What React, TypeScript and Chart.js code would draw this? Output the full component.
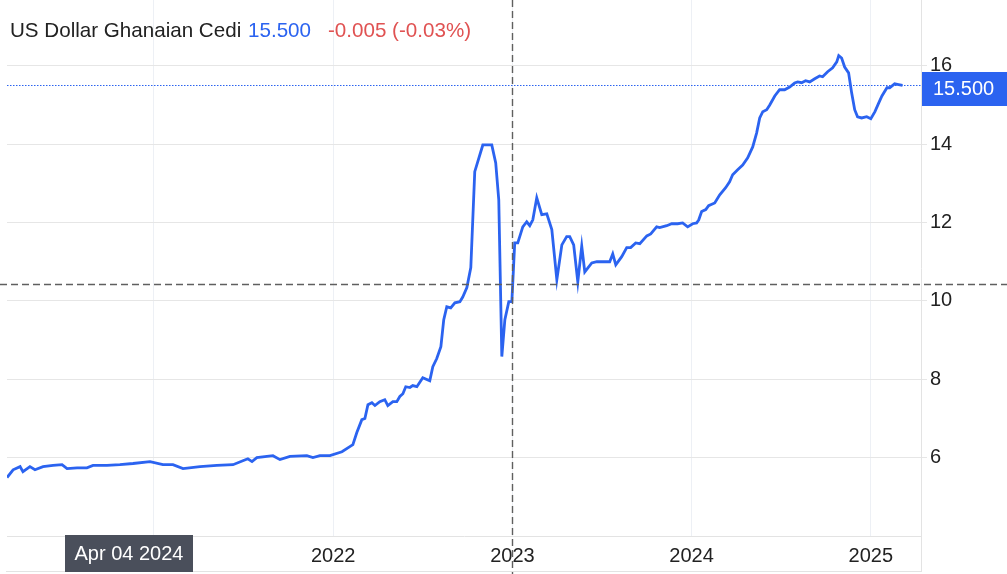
import React, { useEffect, useRef } from "react";
import { Chart, registerables } from "chart.js";

Chart.register(...registerables);

// ---- Data (decimal year, USD/GHS rate) ----
const dates: number[] = [
  2020.18, 2020.214, 2020.253, 2020.269, 2020.308, 2020.336, 2020.381, 2020.437, 2020.487, 2020.515,
  2020.571, 2020.626, 2020.66, 2020.738, 2020.81, 2020.883, 2020.978, 2021.05, 2021.106, 2021.162,
  2021.257, 2021.351, 2021.441, 2021.496, 2021.524, 2021.547, 2021.574, 2021.63, 2021.664, 2021.703,
  2021.759, 2021.853, 2021.887, 2021.926, 2021.982, 2022.049, 2022.093, 2022.11, 2022.132, 2022.16,
  2022.177, 2022.194, 2022.216, 2022.233, 2022.26, 2022.288, 2022.305, 2022.333, 2022.355, 2022.372,
  2022.389, 2022.405, 2022.428, 2022.444, 2022.467, 2022.5, 2022.539, 2022.556, 2022.578, 2022.601,
  2022.617, 2022.634, 2022.656, 2022.679, 2022.707, 2022.723, 2022.746, 2022.768, 2022.79, 2022.835,
  2022.857, 2022.885, 2022.907, 2022.924, 2022.941, 2022.958, 2022.98, 2022.997, 2023.013, 2023.03,
  2023.058, 2023.08, 2023.097, 2023.114, 2023.136, 2023.164, 2023.192, 2023.22, 2023.248, 2023.276,
  2023.303, 2023.32, 2023.342, 2023.365, 2023.387, 2023.404, 2023.443, 2023.471, 2023.526, 2023.543,
  2023.56, 2023.577, 2023.61, 2023.638, 2023.66, 2023.688, 2023.711, 2023.75, 2023.772, 2023.805,
  2023.822, 2023.861, 2023.889, 2023.922, 2023.95, 2023.978, 2024.006, 2024.028, 2024.04, 2024.056,
  2024.079, 2024.095, 2024.129, 2024.157, 2024.19, 2024.212, 2024.229, 2024.257, 2024.285, 2024.313,
  2024.341, 2024.363, 2024.38, 2024.397, 2024.419, 2024.436, 2024.464, 2024.491, 2024.519, 2024.547,
  2024.575, 2024.592, 2024.614, 2024.636, 2024.659, 2024.687, 2024.714, 2024.731, 2024.759, 2024.787,
  2024.81, 2024.821, 2024.837, 2024.854, 2024.876, 2024.893, 2024.91, 2024.926, 2024.949, 2024.977,
  2025.0, 2025.023, 2025.045, 2025.062, 2025.09, 2025.105, 2025.133, 2025.155, 2025.177,
];

const rates: number[] = [
  5.49, 5.69, 5.77, 5.64, 5.77, 5.69, 5.77, 5.8, 5.82, 5.72,
  5.74, 5.74, 5.8, 5.8, 5.82, 5.85, 5.9, 5.82, 5.82, 5.72,
  5.77, 5.8, 5.82, 5.92, 5.97, 5.9, 6.0, 6.03, 6.05, 5.95,
  6.03, 6.05, 6.0, 6.05, 6.05, 6.15, 6.28, 6.33, 6.64, 6.97,
  7.0, 7.35, 7.4, 7.33, 7.43, 7.48, 7.33, 7.43, 7.43, 7.56,
  7.63, 7.81, 7.79, 7.84, 7.81, 8.04, 7.96, 8.32, 8.53, 8.83,
  9.52, 9.85, 9.82, 9.95, 9.98, 10.1, 10.34, 10.85, 13.3, 13.98,
  13.98, 13.98, 13.52, 12.58, 8.58, 9.52, 9.98, 9.98, 11.48, 11.48,
  11.89, 12.02, 11.92, 12.07, 12.63, 12.2, 12.22, 11.82, 10.54, 11.43,
  11.64, 11.64, 11.43, 10.49, 11.4, 10.74, 10.97, 11.0, 11.0, 11.0,
  11.2, 10.92, 11.13, 11.36, 11.36, 11.48, 11.46, 11.66, 11.71, 11.89,
  11.87, 11.92, 11.97, 11.97, 11.99, 11.89, 11.97, 11.99, 12.07, 12.28,
  12.33, 12.43, 12.5, 12.71, 12.89, 13.04, 13.22, 13.35, 13.47, 13.65,
  13.93, 14.29, 14.67, 14.83, 14.88, 15.0, 15.23, 15.39, 15.39, 15.46,
  15.56, 15.59, 15.57, 15.62, 15.59, 15.67, 15.74, 15.72, 15.85, 15.95,
  16.1, 16.26, 16.2, 15.97, 15.82, 15.31, 14.88, 14.7, 14.67, 14.7,
  14.65, 14.83, 15.06, 15.23, 15.44, 15.44, 15.54, 15.52, 15.5,
];

const yearTicks: number[] = [2021, 2022, 2023, 2024, 2025];
const rateTicks: number[] = [6, 8, 10, 12, 14, 16];

const SERIES_NAME = "US Dollar Ghanaian Cedi";
const LAST_VALUE = 15.5;
const LAST_LABEL = "15.500";
const CHANGE_LABEL = "-0.005 (-0.03%)";
const HOVER_DATE_LABEL = "Apr 04 2024";
const CROSS_X = 2023.0;
const CROSS_Y = 10.43;

const X_MIN = 2020.18;
const X_MAX = 2025.28;
const Y_MIN = 4;
const Y_MAX = 17.68;

const W = 1007;
const H = 574;
const FONT = "'Liberation Sans', Arial, sans-serif";
const BLUE = "#2b63f0";
const RED = "#e05252";
const TEXT = "#222222";

const overlayPlugin = {
  id: "overlay",
  afterDatasetsDraw(chart: any) {
    const { ctx, chartArea, scales } = chart;
    const ys = scales.y;
    const xs = scales.x;
    ctx.save();
    // dotted last-value line
    const yLast = Math.round(ys.getPixelForValue(LAST_VALUE)) + 0.5;
    ctx.strokeStyle = BLUE;
    ctx.lineWidth = 1;
    ctx.setLineDash([1.5, 1.5]);
    ctx.beginPath();
    ctx.moveTo(chartArea.left, yLast);
    ctx.lineTo(chartArea.right, yLast);
    ctx.stroke();
    // crosshair
    ctx.strokeStyle = "#5f5f5f";
    ctx.lineWidth = 1.4;
    ctx.setLineDash([7, 4]);
    const cx = Math.round(xs.getPixelForValue(CROSS_X)) + 0.5;
    const cy = Math.round(ys.getPixelForValue(CROSS_Y)) + 0.5;
    ctx.beginPath();
    ctx.moveTo(cx, 0);
    ctx.lineTo(cx, H);
    ctx.stroke();
    ctx.beginPath();
    ctx.moveTo(0, cy);
    ctx.lineTo(W, cy);
    ctx.stroke();
    ctx.restore();
  },
  afterDraw(chart: any) {
    const { ctx, chartArea, scales } = chart;
    const ys = scales.y;
    ctx.save();
    // frame lines
    ctx.strokeStyle = "#e3e3e3";
    ctx.lineWidth = 1;
    ctx.beginPath();
    ctx.moveTo(chartArea.right + 0.5, chartArea.bottom);
    ctx.lineTo(chartArea.right + 0.5, 572);
    ctx.moveTo(chartArea.left - 1, 571.5);
    ctx.lineTo(chartArea.right + 1, 571.5);
    ctx.stroke();

    // last value box
    const yLast = ys.getPixelForValue(LAST_VALUE);
    const boxTop = Math.round(yLast - 13);
    ctx.fillStyle = BLUE;
    ctx.fillRect(chartArea.right + 1, boxTop, W - chartArea.right - 1, 34);
    ctx.fillStyle = "#ffffff";
    ctx.font = `20px ${FONT}`;
    ctx.textBaseline = "middle";
    ctx.textAlign = "left";
    ctx.fillText(LAST_LABEL, 933, boxTop + 17);

    // hovered date box
    ctx.fillStyle = "#4a4f5b";
    ctx.fillRect(65, 535, 128, 37);
    ctx.fillStyle = "#ffffff";
    ctx.textAlign = "center";
    ctx.fillText(HOVER_DATE_LABEL, 129, 554);

    // title
    ctx.font = `20.6px ${FONT}`;
    ctx.textAlign = "left";
    ctx.textBaseline = "alphabetic";
    ctx.fillStyle = TEXT;
    ctx.fillText(SERIES_NAME, 10, 37);
    ctx.fillStyle = BLUE;
    ctx.fillText(LAST_LABEL, 248, 37);
    ctx.fillStyle = RED;
    ctx.fillText(CHANGE_LABEL, 328, 37);
    ctx.restore();
  },
};

export default function App() {
  const ref = useRef<HTMLCanvasElement | null>(null);

  useEffect(() => {
    document.body.style.margin = "0";
    const canvas = ref.current;
    if (!canvas) return;
    const chart = new Chart(canvas, {
      type: "line",
      data: {
        datasets: [
          {
            data: dates.map((d, i) => ({ x: d, y: rates[i] })),
            borderColor: BLUE,
            borderWidth: 2.8,
            pointRadius: 0,
            tension: 0,
            fill: false,
          },
        ],
      },
      options: {
        animation: false,
        responsive: false,
        maintainAspectRatio: false,
        devicePixelRatio: 1,
        layout: { padding: { left: 7, top: 0, right: 0, bottom: 0 } },
        plugins: {
          legend: { display: false },
          tooltip: { enabled: false },
          title: { display: false },
        },
        scales: {
          x: {
            type: "linear",
            min: X_MIN,
            max: X_MAX,
            afterBuildTicks: (s: any) => {
              s.ticks = yearTicks.map((v) => ({ value: v }));
            },
            afterFit: (s: any) => {
              s.height = 38;
              s.paddingLeft = 0;
              s.paddingRight = 0;
            },
            grid: { color: "#edf0f5", lineWidth: 1, drawTicks: false },
            border: { display: true, color: "#e3e3e3" },
            ticks: {
              padding: 8,
              autoSkip: false,
              maxRotation: 0,
              color: TEXT,
              font: { family: FONT, size: 20 },
              callback: (v: any) => String(v),
            },
          },
          y: {
            position: "right",
            min: Y_MIN,
            max: Y_MAX,
            afterBuildTicks: (s: any) => {
              s.ticks = rateTicks.map((v) => ({ value: v }));
            },
            afterFit: (s: any) => {
              s.width = 86;
              s.paddingTop = 0;
              s.paddingBottom = 0;
            },
            grid: { color: "#e6e6e6", lineWidth: 1, drawTicks: true, tickLength: 6 },
            border: { display: true, color: "#e3e3e3" },
            ticks: {
              padding: 3,
              color: TEXT,
              font: { family: FONT, size: 20 },
              callback: (v: any) => String(v),
            },
          },
        },
      },
      plugins: [overlayPlugin],
    });
    return () => chart.destroy();
  }, []);

  return (
    <div style={{ position: "fixed", left: 0, top: 0, width: W, height: H, background: "#ffffff" }}>
      <canvas ref={ref} width={W} height={H} style={{ width: W, height: H, display: "block" }} />
    </div>
  );
}
